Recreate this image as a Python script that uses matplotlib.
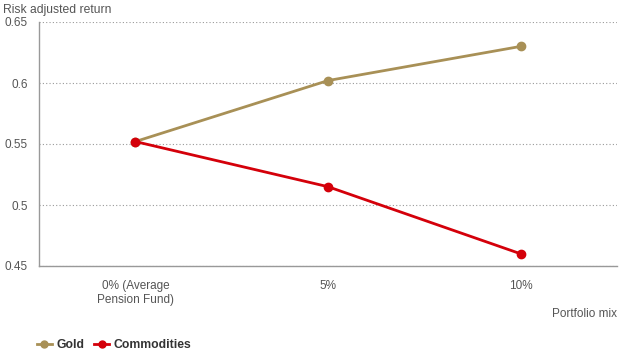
import matplotlib
matplotlib.use("Agg")
import matplotlib.pyplot as plt
from matplotlib.lines import Line2D

categories = ["0% (Average\nPension Fund)", "5%", "10%"]
gold = [0.552, 0.602, 0.630]
commodities = [0.552, 0.515, 0.460]
yticks = [0.45, 0.5, 0.55, 0.6, 0.65]
ytick_labels = ["0.45", "0.5", "0.55", "0.6", "0.65"]

plt.rcParams['font.family'] = ['Liberation Sans', 'DejaVu Sans']
GOLD = "#A89056"
RED = "#D4000A"
TXT = "#555555"

fig = plt.figure(figsize=(6.3, 3.58), dpi=100)
ax = fig.add_axes([39/630, 1-266/358, (617-39)/630, (266-22)/358])

x = list(range(len(categories)))
ax.plot(x, gold, color=GOLD, lw=2, marker="o", ms=6, zorder=3)
ax.plot(x, commodities, color=RED, lw=2, marker="o", ms=6, zorder=4)

ax.set_xlim(-0.5, 2.5)
ax.set_ylim(0.45, 0.65)
ax.set_yticks(yticks)
ax.set_yticklabels(ytick_labels)
ax.set_xticks(x)
ax.set_xticklabels(categories)
ax.tick_params(axis="both", length=0, labelsize=8.5, colors=TXT)
ax.tick_params(axis="x", pad=10)
ax.tick_params(axis="y", pad=8)
ax.grid(axis="y", color="#999999", ls=(0, (1, 2)), lw=0.8)
for s in ["top", "right"]:
    ax.spines[s].set_visible(False)
for s in ["left", "bottom"]:
    ax.spines[s].set_color("#999999")
    ax.spines[s].set_linewidth(1)

fig.text(3/630, 1-10/358, "Risk adjusted return", fontsize=8.7, color=TXT, va="center", ha="left")
fig.text(617/630, 1-314/358, "Portfolio mix", fontsize=8.5, color=TXT, va="center", ha="right")

handles = [Line2D([], [], color=GOLD, lw=2, marker="o", ms=5),
           Line2D([], [], color=RED, lw=2, marker="o", ms=5)]
leg = fig.legend(handles, ["Gold", "Commodities"], loc="center left",
                 bbox_to_anchor=(26/630, 1-345/358), frameon=False, ncol=2,
                 handlelength=1.2, handletextpad=0.4, columnspacing=0.8,
                 prop={"weight": "bold", "size": 8.8})
for t in leg.get_texts():
    t.set_color("#333333")

fig.savefig("out.png", dpi=100)
